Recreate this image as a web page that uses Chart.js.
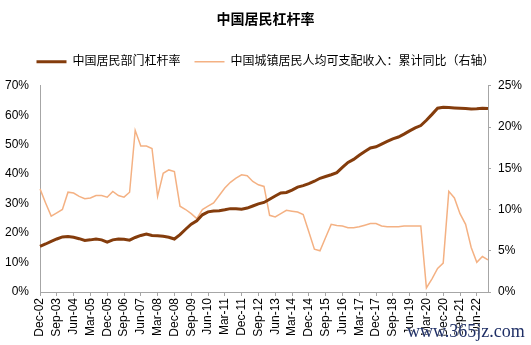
<!DOCTYPE html>
<html>
<head>
<meta charset="utf-8">
<script src="https://cdn.jsdelivr.net/npm/chart.js@4.4.1/dist/chart.umd.min.js"></script>
<style>
  body { margin: 0; background: #fff; }
  #wrap { position: relative; width: 531px; height: 345px; }
  #mark {
    position: absolute; left: 407px; top: 321px;
    font: 18px "Liberation Serif", "DejaVu Serif", serif;
    color: #1f2f66; text-shadow: 0 0 2px #fff, 0 0 2px #fff;
  }
</style>
</head>
<body>
<div id="wrap">
  <canvas id="chart" width="531" height="345"></canvas>
  <div id="mark">www.365jz.com</div>
</div>
<script>
// quarterly, Dec-02 .. Dec-22
const months = ['Mar', 'Jun', 'Sep', 'Dec'];
const quarters = ['Dec-02'];
for (let y = 3; y <= 22; y++) {
  months.forEach(m => quarters.push(m + '-' + String(y).padStart(2, '0')));
}

// 中国居民部门杠杆率 (%), left axis
const leverage = [
  15.5, 16.3, 17.2, 18.0, 18.7, 18.8, 18.6, 18.1, 17.5, 17.7,
  18.0, 17.7, 16.9, 17.7, 18.0, 17.9, 17.6, 18.5, 19.2, 19.7,
  19.2, 19.1, 18.9, 18.6, 18.0, 19.5, 21.3, 23.0, 24.2, 26.2,
  27.2, 27.5, 27.6, 27.9, 28.3, 28.3, 28.1, 28.5, 29.2, 29.9,
  30.4, 31.5, 32.6, 33.6, 33.8, 34.6, 35.6, 36.1, 36.8, 37.6,
  38.6, 39.2, 39.8, 40.5, 42.3, 44.0, 45.0, 46.4, 47.7, 48.9,
  49.3, 50.2, 51.1, 52.0, 52.6, 53.6, 54.7, 55.7, 56.5, 58.3,
  60.3, 62.4, 62.7, 62.6, 62.5, 62.4, 62.3, 62.1, 62.2, 62.4,
  62.3
];

// 中国城镇居民人均可支配收入：累计同比 (%), right axis
const incomeYoY = [
  12.5, 10.8, 9.2, 9.6, 10.0, 12.1, 12.0, 11.6, 11.3, 11.4,
  11.7, 11.7, 11.5, 12.2, 11.7, 11.5, 12.1, 19.6, 17.7, 17.7,
  17.4, 11.6, 14.4, 14.8, 14.6, 10.4, 10.0, 9.5, 8.9, 10.0,
  10.4, 10.8, 11.7, 12.6, 13.3, 13.8, 14.2, 14.1, 13.4, 13.0,
  12.8, 9.3, 9.1, 9.5, 9.9, 9.8, 9.7, 9.4, 7.3, 5.2,
  5.0, 6.6, 8.2, 8.05, 8.0, 7.8, 7.8, 7.9, 8.1, 8.3,
  8.3, 8.0, 7.9, 7.9, 7.9, 8.0, 8.0, 8.0, 8.0, 0.5,
  1.6, 2.85, 3.5, 12.2, 11.4, 9.5, 8.2, 5.4, 3.6, 4.3,
  3.9
];

Chart.defaults.font.family = '"Liberation Sans", "Noto Sans CJK SC", sans-serif';
Chart.defaults.font.size = 12;
Chart.defaults.color = '#000';

const axisGray = '#a6a6a6';

// push the plot area a bit below the legend
const legendGap = {
  id: 'legendGap',
  beforeInit(chart) {
    const fit = chart.legend.fit;
    chart.legend.fit = function () {
      fit.bind(chart.legend)();
      this.height += 8;
    };
  }
};

new Chart(document.getElementById('chart'), {
  type: 'line',
  data: {
    labels: quarters,
    datasets: [
      {
        label: '中国居民部门杠杆率',
        data: leverage,
        yAxisID: 'y',
        borderColor: '#843C0C',
        backgroundColor: '#843C0C',
        borderWidth: 3,
        pointRadius: 0,
        tension: 0,
      },
      {
        label: '中国城镇居民人均可支配收入：累计同比（右轴）',
        data: incomeYoY,
        yAxisID: 'y1',
        borderColor: '#F4B183',
        backgroundColor: '#F4B183',
        borderWidth: 1.5,
        pointRadius: 0,
        tension: 0,
      },
    ],
  },
  options: {
    responsive: false,
    animation: false,
    layout: { padding: 0 },
    plugins: {
      title: {
        display: true,
        text: '中国居民杠杆率',
        color: '#000',
        font: { size: 14, weight: 'bold' },
        padding: { top: 12, bottom: 13 },
      },
      legend: {
        display: true,
        position: 'top',
        labels: {
          usePointStyle: true,
          pointStyle: 'line',
          pointStyleWidth: 30,
          padding: 14,
          color: '#000',
          font: { size: 12 },
        },
      },
      tooltip: { enabled: false },
    },
    scales: {
      x: {
        offset: false,
        grid: { drawOnChartArea: false, drawTicks: true, tickLength: 4, color: axisGray },
        border: { color: axisGray },
        ticks: {
          autoSkip: false,
          minRotation: 90,
          maxRotation: 90,
          padding: 2,
          callback: function (value, index) {
            return index % 3 === 0 ? this.getLabelForValue(value) : null;
          },
        },
        afterFit: s => { s.height = 53; },
      },
      y: {
        position: 'left',
        min: 0,
        max: 70,
        grid: { display: false, drawTicks: false },
        border: { color: axisGray },
        ticks: { stepSize: 10, padding: 11, callback: v => v + '%' },
        afterFit: s => { s.width = 40; },
      },
      y1: {
        position: 'right',
        min: 0,
        max: 25,
        grid: { drawOnChartArea: false, drawTicks: true, tickLength: 3, color: axisGray },
        border: { color: axisGray },
        ticks: { stepSize: 5, padding: 7, callback: v => v + '%' },
        afterFit: s => { s.width = 43; },
      },
    },
  },
  plugins: [legendGap],
});
</script>
</body>
</html>
